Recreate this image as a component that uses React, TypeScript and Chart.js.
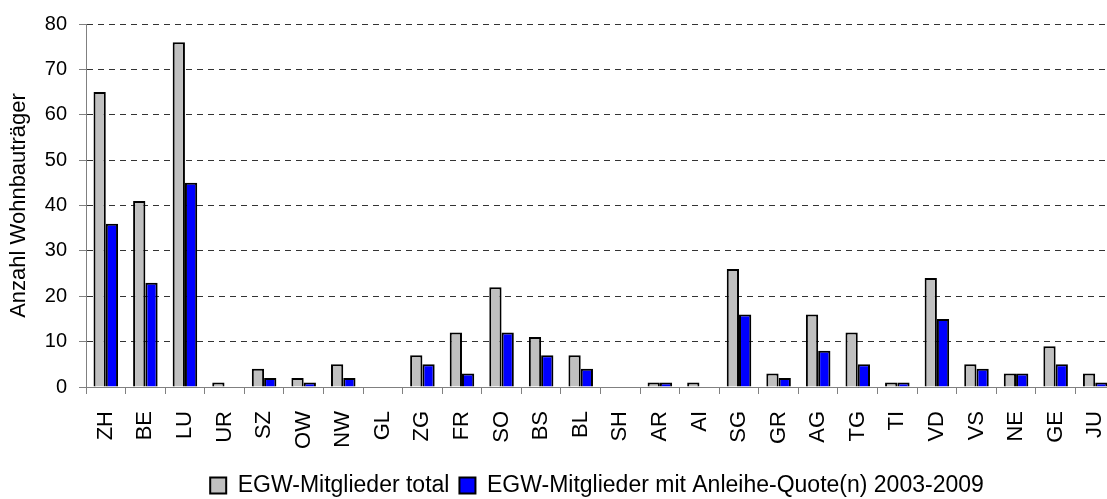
import React, { useEffect, useRef } from "react";
import { Chart, registerables } from "chart.js";

Chart.register(...registerables);

const categories = ["ZH", "BE", "LU", "UR", "SZ", "OW", "NW", "GL", "ZG", "FR", "SO", "BS", "BL", "SH", "AR", "AI", "SG", "GR", "AG", "TG", "TI", "VD", "VS", "NE", "GE", "JU"];
const totalMembers = [65, 41, 76, 1, 4, 2, 5, 0, 7, 12, 22, 11, 7, 0, 1, 1, 26, 3, 16, 12, 1, 24, 5, 3, 9, 3];
const quotaMembers = [36, 23, 45, 0, 2, 1, 2, 0, 5, 3, 12, 7, 4, 0, 1, 0, 16, 2, 8, 5, 1, 15, 4, 3, 5, 1];
const yTicks = [0, 10, 20, 30, 40, 50, 60, 70, 80];

const FONT = "'Liberation Sans', Arial, sans-serif";

export default function App() {
  const ref = useRef<HTMLCanvasElement | null>(null);
  useEffect(() => {
    document.body.style.margin = "0";
    document.body.style.overflow = "hidden";
    const canvas = ref.current!;
    const bw = (ctx: any) => (ctx.raw === 0 ? 0 : 2);
    const chart = new Chart(canvas, {
      type: "bar",
      data: {
        labels: categories,
        datasets: [
          {
            label: "EGW-Mitglieder total",
            data: totalMembers,
            backgroundColor: "#C0C0C0",
            borderColor: "#000000",
            borderWidth: bw as any,
            borderSkipped: "bottom",
          },
          {
            label: "EGW-Mitglieder mit Anleihe-Quote(n) 2003-2009",
            data: quotaMembers,
            backgroundColor: "#0000FF",
            borderColor: "#000000",
            borderWidth: bw as any,
            borderSkipped: "bottom",
          },
        ],
      },
      options: {
        responsive: false,
        animation: false,
        devicePixelRatio: 1,
        layout: { padding: { top: 24, left: 0, right: 0, bottom: -8 } },
        datasets: { bar: { categoryPercentage: 0.62, barPercentage: 1 } },
        scales: {
          x: {
            grid: {
              display: true,
              drawOnChartArea: false,
              drawTicks: true,
              tickLength: 7,
              tickColor: "#808080",
              tickWidth: 1,
              offset: true,
            },
            border: { display: true, color: "#808080", width: 1 },
            ticks: {
              autoSkip: false,
              minRotation: 90,
              maxRotation: 90,
              color: "#000",
              padding: 17,
              font: { family: FONT, size: 22 },
            },
            afterFit: (scale: any) => {
              scale.height = 77;
              scale.paddingRight = 79;
              scale.paddingLeft = 0;
            },
          },
          y: {
            min: 0,
            max: 80,
            afterBuildTicks: (scale: any) => {
              scale.ticks = yTicks.map((v) => ({ value: v }));
            },
            grid: {
              color: "#333333",
              lineWidth: 1,
              drawTicks: true,
              tickLength: 7,
              tickColor: "#808080",
              tickBorderDash: [],
            },
            border: { display: true, color: "#808080", width: 1, dash: [6, 5] },
            ticks: {
              color: "#000",
              padding: 12,
              font: { family: FONT, size: 20 },
            },
            title: {
              display: true,
              text: "Anzahl Wohnbauträger",
              color: "#000",
              font: { family: FONT, size: 22 },
              padding: { top: 6, bottom: 0 },
            },
            afterFit: (scale: any) => {
              scale.width = 86;
            },
          },
        },
        plugins: {
          legend: {
            position: "bottom",
            labels: {
              color: "#000",
              font: { family: FONT, size: 23 },
              boxWidth: 16,
              boxHeight: 16,
              padding: 10,
              generateLabels: (ch: any) =>
                ch.data.datasets.map((ds: any, i: number) => ({
                  text: ds.label,
                  fillStyle: ds.backgroundColor,
                  strokeStyle: "#000",
                  lineWidth: 2,
                  hidden: false,
                  datasetIndex: i,
                })),
            },
          },
          tooltip: { enabled: false },
          title: { display: false },
        },
      },
    });
    return () => chart.destroy();
  }, []);
  return (
    <div style={{ position: "fixed", left: 0, top: 0, width: 1107, height: 499, overflow: "hidden" }}>
      <canvas ref={ref} width={1194} height={499} style={{ display: "block" }} />
    </div>
  );
}
